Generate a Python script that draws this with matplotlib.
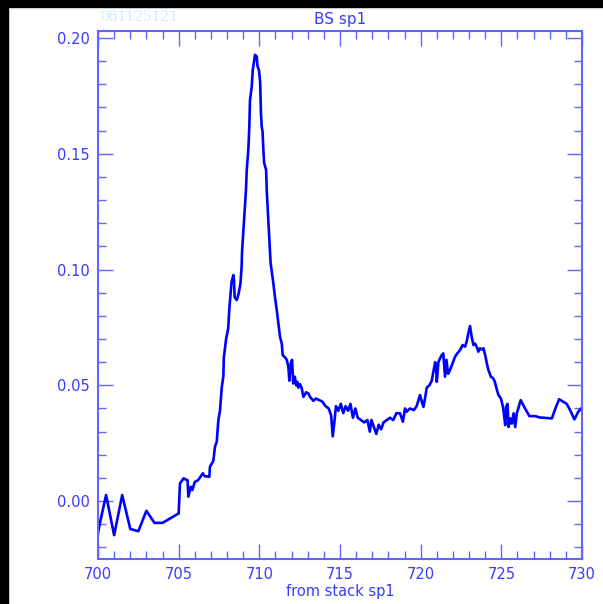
import numpy as np
import matplotlib
matplotlib.use('Agg')
import matplotlib.pyplot as plt
from matplotlib.patches import Rectangle
from matplotlib.ticker import MultipleLocator

# photon energy (eV) and intensity
energy = [700.0, 700.1, 700.5, 701.0, 701.5, 702.0, 702.5, 703.0, 703.5, 704.0, 705.0,
          705.08, 705.3, 705.55, 705.6, 705.75, 705.85, 706.0, 706.2, 706.5, 706.6, 706.9,
          706.94, 707.15, 707.25, 707.36, 707.46, 707.56, 707.67, 707.77, 707.8, 707.94,
          708.07, 708.14, 708.28, 708.39, 708.43, 708.47, 708.6, 708.72, 708.83, 708.9,
          708.93, 709.17, 709.22, 709.32, 709.38, 709.42, 709.53, 709.59, 709.67, 709.73,
          709.84, 709.88, 709.98, 710.05, 710.1, 710.15, 710.2, 710.25, 710.3, 710.42,
          710.46, 710.66, 710.7, 710.87, 710.97, 711.08, 711.18, 711.28, 711.39, 711.45,
          711.6, 711.7, 711.8, 711.86, 711.95, 712.03, 712.1, 712.2, 712.28, 712.35,
          712.42, 712.52, 712.62, 712.73, 712.9, 713.04, 713.14, 713.35, 713.5, 713.72,
          713.9, 714.1, 714.3, 714.45, 714.55, 714.65, 714.75, 714.9, 715.05, 715.2,
          715.35, 715.5, 715.65, 715.8, 715.95, 716.1, 716.3, 716.5, 716.7, 716.85,
          716.95, 717.1, 717.25, 717.4, 717.55, 717.7, 717.9, 718.1, 718.3, 718.5,
          718.72, 718.9, 719.03, 719.13, 719.34, 719.58, 719.75, 719.96, 720.07, 720.17,
          720.27, 720.38, 720.54, 720.69, 720.79, 720.9, 720.96, 721.0, 721.1, 721.2,
          721.3, 721.4, 721.51, 721.6, 721.7, 721.82, 721.98, 722.13, 722.27, 722.44,
          722.6, 722.75, 722.85, 722.95, 723.06, 723.16, 723.27, 723.37, 723.47, 723.58,
          723.68, 723.79, 723.89, 724.0, 724.1, 724.2, 724.35, 724.5, 724.6, 724.7,
          724.82, 724.97, 725.1, 725.17, 725.24, 725.3, 725.38, 725.45, 725.55, 725.65,
          725.76, 725.86, 725.96, 726.2, 726.47, 726.74, 727.09, 727.4, 728.13, 728.33,
          728.58, 728.84, 729.05, 729.26, 729.53, 729.77, 730.0]
intensity = [-0.014, -0.010, 0.0026, -0.0147, 0.0026, -0.012, -0.013, -0.0042, -0.0094, -0.0094, -0.0053,
             0.0076, 0.0098, 0.009, 0.0019, 0.0062, 0.0048, 0.0083, 0.009, 0.012, 0.0108, 0.0105,
             0.0148, 0.0174, 0.0235, 0.0256, 0.035, 0.039, 0.049, 0.054, 0.062, 0.070,
             0.0746, 0.083, 0.0947, 0.0976, 0.0955, 0.088, 0.0868, 0.0897, 0.094, 0.101,
             0.108, 0.134, 0.143, 0.152, 0.1617, 0.173, 0.179, 0.186, 0.1898, 0.1927,
             0.192, 0.188, 0.186, 0.181, 0.1675, 0.1617, 0.1595, 0.1516, 0.146, 0.143,
             0.134, 0.108, 0.1027, 0.094, 0.088, 0.0825, 0.0768, 0.071, 0.068, 0.063,
             0.062, 0.061, 0.058, 0.052, 0.0595, 0.061, 0.0508, 0.0537, 0.050, 0.0515,
             0.049, 0.0505, 0.049, 0.045, 0.047, 0.0465, 0.045, 0.0433, 0.0443, 0.0436,
             0.043, 0.041, 0.040, 0.037, 0.028, 0.034, 0.041, 0.039, 0.042, 0.038,
             0.041, 0.039, 0.042, 0.036, 0.040, 0.036, 0.035, 0.034, 0.035, 0.030,
             0.035, 0.032, 0.029, 0.033, 0.031, 0.034, 0.035, 0.036, 0.035, 0.038,
             0.0379, 0.0343, 0.040, 0.0386, 0.040, 0.0393, 0.041, 0.0458, 0.0429, 0.0407,
             0.0444, 0.049, 0.050, 0.052, 0.056, 0.060, 0.0566, 0.0515, 0.060, 0.0616,
             0.063, 0.0638, 0.0537, 0.061, 0.055, 0.0566, 0.0595, 0.0623, 0.0638, 0.0652,
             0.0674, 0.0667, 0.0688, 0.0724, 0.0756, 0.071, 0.0674, 0.068, 0.0667, 0.0645,
             0.066, 0.0655, 0.066, 0.063, 0.0595, 0.0566, 0.0537, 0.053, 0.0515, 0.0487,
             0.0458, 0.0444, 0.0407, 0.037, 0.0328, 0.0407, 0.042, 0.032, 0.0357, 0.0335,
             0.0379, 0.032, 0.0379, 0.0436, 0.040, 0.0367, 0.0367, 0.0361, 0.0357, 0.0396,
             0.044, 0.0429, 0.042, 0.0393, 0.0353, 0.0386, 0.0404]

axis_col = '#6464ff'
text_col = '#3a3aff'

fig = plt.figure(figsize=(6.03, 6.04), dpi=100)
fig.patch.set_facecolor('white')
# black strips along the left and top edges
fig.patches.append(Rectangle((0, 0), 8 / 603, 1, transform=fig.transFigure,
                             color='black', zorder=0))
fig.patches.append(Rectangle((0, 1 - 7 / 604), 1, 7 / 604, transform=fig.transFigure,
                             color='black', zorder=0))

ax = fig.add_axes([98 / 603, (604 - 559) / 604, (582 - 98) / 603, (559 - 31) / 604])
ax.plot(energy, intensity, color='#0000ff', lw=1.9)

ax.set_xlim(700, 730)
ax.set_ylim(-0.025, 0.203)
ax.xaxis.set_major_locator(MultipleLocator(5))
ax.xaxis.set_minor_locator(MultipleLocator(1))
ax.yaxis.set_major_locator(MultipleLocator(0.05))
ax.yaxis.set_minor_locator(MultipleLocator(0.01))
ax.yaxis.set_major_formatter(plt.FormatStrFormatter('%.2f'))

ax.tick_params(which='both', direction='in', top=True, right=True,
               color=axis_col, labelcolor=text_col, labelsize=10.5, width=1)
ax.tick_params(which='major', length=10.5, pad=6)
ax.tick_params(which='minor', length=5.5)
for s in ax.spines.values():
    s.set_color(axis_col)
    s.set_linewidth(1.5)

ax.set_title('BS sp1', color=text_col, fontsize=11, pad=5)
ax.set_xlabel('from stack sp1', color=text_col, fontsize=10.5, labelpad=1)
fig.text(100 / 603, 1 - 17 / 604, '081125121', color='#d6eaff', fontsize=12.5,
         family='Liberation Serif', va='center', ha='left')

fig.savefig('out.png', dpi=100)
